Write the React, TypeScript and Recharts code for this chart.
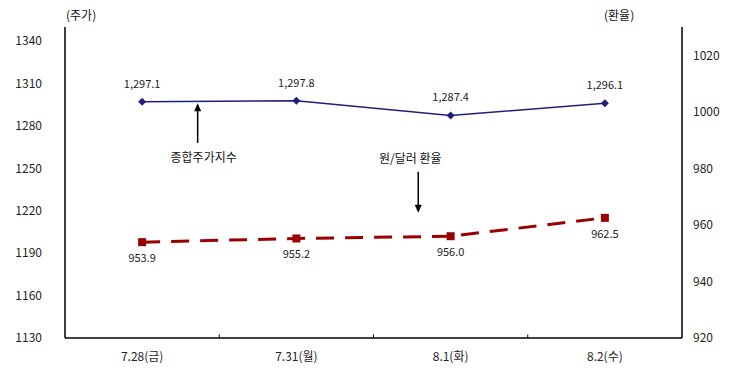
import { ComposedChart, Line, XAxis, YAxis, ReferenceLine, LabelList } from "recharts";

const dates = ["7.28(금)", "7.31(월)", "8.1(화)", "8.2(수)"];
const kospi = [1297.1, 1297.8, 1287.4, 1296.1];
const wonRate = [953.9, 955.2, 956.0, 962.5];
const leftTicks = [1130, 1160, 1190, 1220, 1250, 1280, 1310, 1340];
const rightTicks = [920, 940, 960, 980, 1000, 1020];
const boundaries = [0.5, 1.5, 2.5];

const data = dates.map((d, i) => ({ idx: i, date: d, kospi: kospi[i], won: wonRate[i] }));

const FONT = "'Noto Sans CJK KR', 'Noto Sans', sans-serif";
const BLUE = "#1f1f80";
const RED = "#990000";

const Diamond = (props: any) => {
  const { cx, cy } = props;
  if (cx == null || cy == null) return null;
  return <polygon points={`${cx},${cy - 4} ${cx + 4},${cy} ${cx},${cy + 4} ${cx - 4},${cy}`} fill={BLUE} />;
};

const Square = (props: any) => {
  const { cx, cy } = props;
  if (cx == null || cy == null) return null;
  return <rect x={cx - 4} y={cy - 4} width={8} height={8} fill={RED} />;
};

// arrow with a caption next to its tail; the second segment point is the tip
function arrow(text: string, textDx: number, textDy: number) {
  return (p: any) => {
    const { x1, y1, x2, y2 } = p;
    const dir = y2 > y1 ? 1 : -1;
    return (
      <g>
        <line x1={x1} y1={y1} x2={x2} y2={y2 - dir * 6} stroke="#000" strokeWidth={1.5} />
        <polygon points={`${x2},${y2} ${x2 - 3.5},${y2 - dir * 8} ${x2 + 3.5},${y2 - dir * 8}`} fill="#000" />
        <text x={x1 + textDx} y={y1 + textDy} textAnchor="middle" fontSize={12} fontFamily={FONT} fill="#111">
          {text}
        </text>
      </g>
    );
  };
}

const fmtKospi = (v: any) => Number(v).toLocaleString("en-US", { minimumFractionDigits: 1, maximumFractionDigits: 1 });
const fmtWon = (v: any) => Number(v).toFixed(1);

export default function App() {
  const tickStyle = { fontSize: 12, fontFamily: FONT, fill: "#222" };
  return (
    <div style={{ position: "absolute", left: 0, top: 0, background: "#fff" }}>
      <svg width={736} height={0} style={{ display: "block" }} />
      <div style={{ position: "relative", width: 736, height: 372 }}>
        <div style={{ position: "absolute", left: 66, top: 6, fontSize: 12, fontFamily: FONT, color: "#111" }}>(주가)</div>
        <div style={{ position: "absolute", left: 604, top: 6, fontSize: 12, fontFamily: FONT, color: "#111" }}>(환율)</div>
        <ComposedChart width={736} height={372} data={data} margin={{ top: 27, right: 0, bottom: 0, left: 0 }}>
          <XAxis
            dataKey="idx"
            type="number"
            domain={[-0.5, 3.5]}
            ticks={[0, 1, 2, 3]}
            tickFormatter={(i: number) => dates[i]}
            tickLine={false}
            tickSize={0}
            tickMargin={14}
            height={34}
            axisLine={{ stroke: "#000", strokeWidth: 1.5 }}
            tick={{ ...tickStyle, fontSize: 12 }}
          />
          <XAxis xAxisId="top" orientation="top" type="number" domain={[-0.5, 3.5]} tick={false} tickLine={false} height={0} axisLine={{ stroke: "#000", strokeWidth: 1.5 }} />
          <YAxis
            yAxisId="left"
            domain={[1130, 1350]}
            ticks={leftTicks}
            width={65}
            tickLine={false}
            tickSize={0}
            tickMargin={23}
            axisLine={{ stroke: "#000", strokeWidth: 1.5 }}
            tick={tickStyle}
          />
          <YAxis
            yAxisId="right"
            orientation="right"
            domain={[920, 1030]}
            ticks={rightTicks}
            width={54}
            tickLine={false}
            tickSize={0}
            tickMargin={11}
            axisLine={{ stroke: "#000", strokeWidth: 1.5 }}
            tick={tickStyle}
          />
          {boundaries.map((b) => (
            <ReferenceLine
              key={b}
              yAxisId="left"
              segment={[{ x: b, y: 1130 }, { x: b, y: 1132.5 }]}
              stroke="#000"
              strokeWidth={1}
            />
          ))}
          <Line
            yAxisId="left"
            dataKey="kospi"
            stroke={BLUE}
            strokeWidth={1.5}
            dot={<Diamond />}
            activeDot={false}
            isAnimationActive={false}
          >
            <LabelList dataKey="kospi" position="top" offset={14} formatter={fmtKospi} style={{ fontSize: 11, fontFamily: FONT, fill: "#222" }} />
          </Line>
          <Line
            yAxisId="right"
            dataKey="won"
            stroke={RED}
            strokeWidth={3}
            strokeDasharray="18 11"
            dot={<Square />}
            activeDot={false}
            isAnimationActive={false}
          >
            <LabelList dataKey="won" position="bottom" offset={12} formatter={fmtWon} style={{ fontSize: 11, fontFamily: FONT, fill: "#222" }} />
          </Line>
          <ReferenceLine
            yAxisId="left"
            segment={[{ x: 0.36, y: 1268 }, { x: 0.36, y: 1296 }]}
            shape={arrow("종합주가지수", 6, 19)}
          />
          <ReferenceLine
            yAxisId="right"
            segment={[{ x: 1.79, y: 978.8 }, { x: 1.79, y: 964.3 }]}
            shape={arrow("원/달러 환율", -8, -9)}
          />
        </ComposedChart>
      </div>
    </div>
  );
}
